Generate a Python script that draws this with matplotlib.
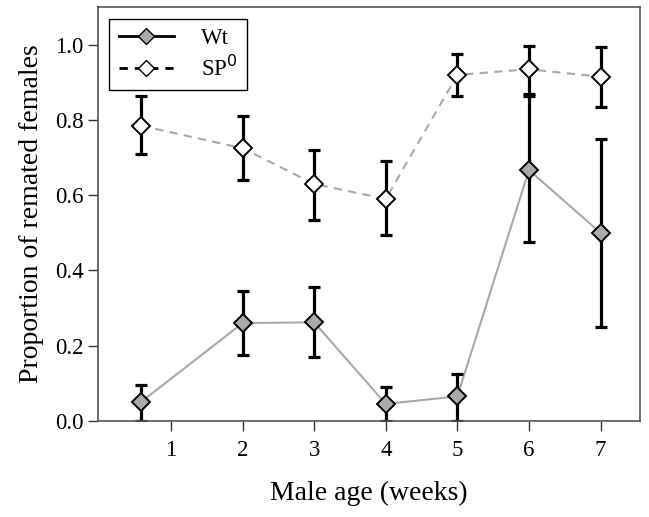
import matplotlib
matplotlib.use("Agg")
import matplotlib.pyplot as plt
from matplotlib.lines import Line2D

plt.rcParams['font.family'] = ['Liberation Serif', 'DejaVu Serif']

# male age positions and data
age = [0.58, 2, 3, 4, 5, 6, 7]

wt_mean = [0.05, 0.26, 0.262, 0.045, 0.065, 0.667, 0.50]
wt_low = [0.0, 0.175, 0.17, 0.0, 0.0, 0.475, 0.25]
wt_high = [0.095, 0.345, 0.355, 0.09, 0.125, 0.865, 0.75]

sp_mean = [0.785, 0.725, 0.63, 0.59, 0.92, 0.935, 0.915]
sp_low = [0.71, 0.64, 0.535, 0.495, 0.865, 0.87, 0.835]
sp_high = [0.865, 0.81, 0.72, 0.69, 0.975, 0.998, 0.995]

xticks = [1, 2, 3, 4, 5, 6, 7]
yticks = [0.0, 0.2, 0.4, 0.6, 0.8, 1.0]

fig = plt.figure(figsize=(6.49, 5.17), dpi=100)
ax = fig.add_axes([0.151, 0.186, 0.835, 0.8])

#lines first, error bars over them, markers on top
ax.plot(age, sp_mean, color='#aaaaaa', lw=1.5, ls=(0, (4, 3)), zorder=1)
ax.plot(age, wt_mean, color='#aaaaaa', lw=1.5, zorder=1)

for m, lo, hi in [(sp_mean, sp_low, sp_high), (wt_mean, wt_low, wt_high)]:
    err = [[a - b for a, b in zip(m, lo)], [b - a for a, b in zip(m, hi)]]
    ax.errorbar(age, m, yerr=err, fmt='none', ecolor='black', elinewidth=2.3,
                capsize=4, capthick=2.3, zorder=2)

ax.plot(age, sp_mean, ls='none', marker='D', ms=9, mfc='white', mec='black', mew=1.4, zorder=3)
ax.plot(age, wt_mean, ls='none', marker='D', ms=9, mfc='#aaaaaa', mec='black', mew=1.4, zorder=3)

ax.set_xlim(-0.02, 7.55)
ax.set_ylim(0, 1.1)
ax.set_xticks(xticks)
ax.set_yticks(yticks)
ax.set_yticklabels(['%.1f' % v for v in yticks])
ax.tick_params(direction='out', length=7, width=1, colors='#333333', labelsize=16.5, labelcolor='black')
ax.tick_params(axis='x', pad=7)
for s in ax.spines.values():
    s.set_color('#555555')
    s.set_linewidth(1.2)

ax.set_xlabel('Male age (weeks)', fontsize=20, labelpad=14)
ax.set_ylabel('Proportion of remated females', fontsize=20, labelpad=8)

handles = [Line2D([], [], color='black', lw=2, marker='D', ms=8, mfc='#aaaaaa', mec='black'),
           Line2D([], [], color='black', lw=2, ls=(0, (3, 2.5)), marker='D', ms=8, mfc='white', mec='black')]
leg = ax.legend(handles, ['Wt', 'SP$^0$'], loc='upper left', fontsize=16.5, fancybox=False,
                edgecolor='black', framealpha=1, handlelength=2.4, handletextpad=1.2,
                borderaxespad=0.5, labelspacing=0.3)
leg.get_frame().set_linewidth(1.0)

fig.savefig('out.png', dpi=100)
